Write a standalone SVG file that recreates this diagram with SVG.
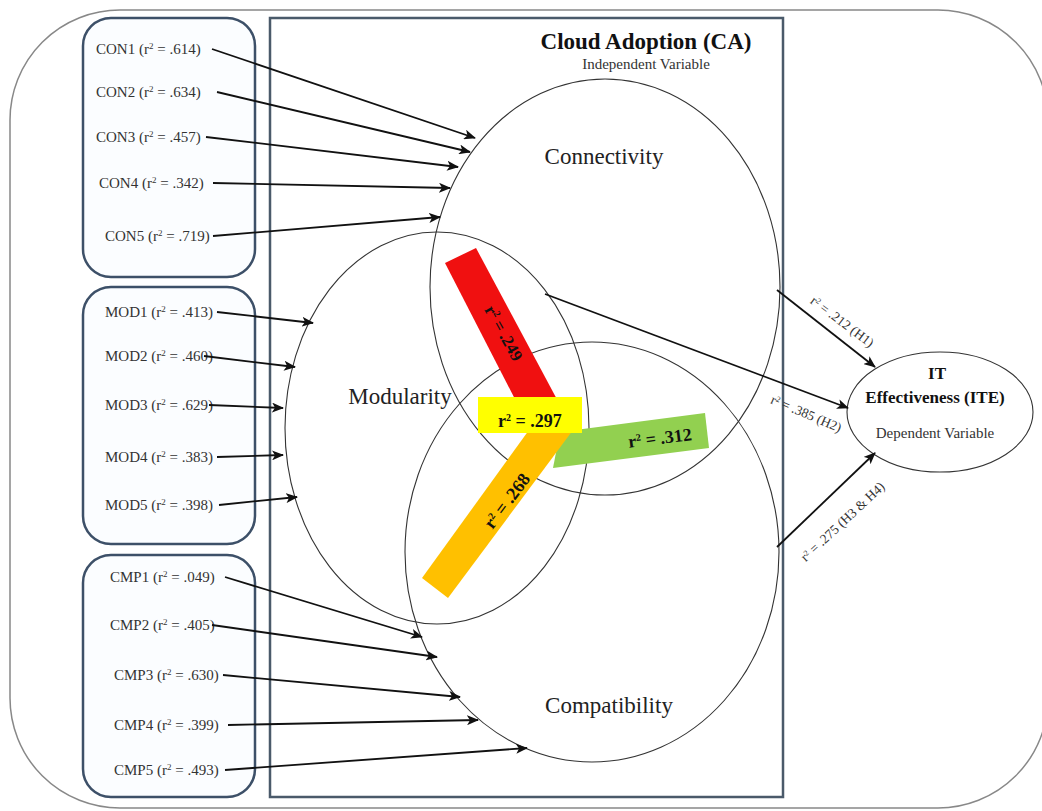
<svg xmlns="http://www.w3.org/2000/svg" width="1042" height="811" viewBox="0 0 1042 811">
<defs>
<marker id="arr" markerUnits="userSpaceOnUse" markerWidth="12" markerHeight="10" refX="11" refY="5" orient="auto">
<path d="M0,0 L12,5 L0,10 L3,5 z" fill="#111"/>
</marker>
<style>
.box{fill:#fbfdff;stroke:#3d5068;stroke-width:2.5}
.ell{fill:none;stroke:#333;stroke-width:1.1}
.lbl{font-family:"Liberation Serif",serif;font-size:15px;fill:#333}
.big{font-family:"Liberation Serif",serif;font-size:23px;fill:#222}
.bold{font-family:"Liberation Serif",serif;font-weight:bold;fill:#111}
.hl{font-family:"Liberation Serif",serif;font-size:13.5px;fill:#333;text-anchor:middle}
.conn line{stroke:#111;stroke-width:1.8;marker-end:url(#arr)}
</style>
</defs>
<rect x="0" y="0" width="1042" height="811" fill="#fff"/>
<rect x="10" y="10" width="1038" height="798" rx="110" ry="110" fill="#fff" stroke="#888" stroke-width="1.5"/>

<g id="con-box">
<rect class="box" x="83" y="18" width="172" height="259" rx="28"/>
<text class="lbl" x="96" y="54">CON1 (r<tspan dy="-5" font-size="9">2</tspan><tspan dy="5"> = .614)</tspan></text>
<text class="lbl" x="96" y="97">CON2 (r<tspan dy="-5" font-size="9">2</tspan><tspan dy="5"> = .634)</tspan></text>
<text class="lbl" x="96" y="142">CON3 (r<tspan dy="-5" font-size="9">2</tspan><tspan dy="5"> = .457)</tspan></text>
<text class="lbl" x="99" y="188">CON4 (r<tspan dy="-5" font-size="9">2</tspan><tspan dy="5"> = .342)</tspan></text>
<text class="lbl" x="105" y="241">CON5 (r<tspan dy="-5" font-size="9">2</tspan><tspan dy="5"> = .719)</tspan></text>
</g>
<g id="mod-box">
<rect class="box" x="83" y="287" width="172" height="257" rx="28"/>
<text class="lbl" x="105" y="317">MOD1 (r<tspan dy="-5" font-size="9">2</tspan><tspan dy="5"> = .413)</tspan></text>
<text class="lbl" x="105" y="361">MOD2 (r<tspan dy="-5" font-size="9">2</tspan><tspan dy="5"> = .460)</tspan></text>
<text class="lbl" x="105" y="410">MOD3 (r<tspan dy="-5" font-size="9">2</tspan><tspan dy="5"> = .629)</tspan></text>
<text class="lbl" x="105" y="462">MOD4 (r<tspan dy="-5" font-size="9">2</tspan><tspan dy="5"> = .383)</tspan></text>
<text class="lbl" x="105" y="510">MOD5 (r<tspan dy="-5" font-size="9">2</tspan><tspan dy="5"> = .398)</tspan></text>
</g>
<g id="cmp-box">
<rect class="box" x="83" y="555" width="172" height="242" rx="28"/>
<text class="lbl" x="110" y="582">CMP1 (r<tspan dy="-5" font-size="9">2</tspan><tspan dy="5"> = .049)</tspan></text>
<text class="lbl" x="110" y="630">CMP2 (r<tspan dy="-5" font-size="9">2</tspan><tspan dy="5"> = .405)</tspan></text>
<text class="lbl" x="114" y="680">CMP3 (r<tspan dy="-5" font-size="9">2</tspan><tspan dy="5"> = .630)</tspan></text>
<text class="lbl" x="114" y="730">CMP4 (r<tspan dy="-5" font-size="9">2</tspan><tspan dy="5"> = .399)</tspan></text>
<text class="lbl" x="114" y="775">CMP5 (r<tspan dy="-5" font-size="9">2</tspan><tspan dy="5"> = .493)</tspan></text>
</g>

<g id="cloud-adoption">
<rect x="270" y="18" width="513" height="779" fill="#fff" stroke="#4a5a6a" stroke-width="2.5"/>
<text class="bold" x="646" y="49" font-size="23" text-anchor="middle">Cloud Adoption (CA)</text>
<text class="lbl" x="646" y="69" font-size="15.5" text-anchor="middle">Independent Variable</text>
</g>

<g id="connectivity">
<ellipse class="ell" cx="605" cy="287" rx="175" ry="208"/>
<text class="big" x="604" y="164" text-anchor="middle">Connectivity</text>
</g>
<g id="modularity">
<ellipse class="ell" cx="437" cy="428" rx="152" ry="196"/>
<text class="big" x="400" y="404" font-size="22" text-anchor="middle">Modularity</text>
</g>
<g id="compatibility">
<ellipse class="ell" cx="592" cy="552" rx="187" ry="210"/>
<text class="big" x="609" y="713" text-anchor="middle">Compatibility</text>
</g>

<g id="shared-variance">
<polygon points="445,263 476,248 560,405 518,405" fill="#f01010"/>
<polygon points="560,432 705,413 709,448 553,468" fill="#92d050"/>
<polygon points="529,430 573,430 448,598 422,578" fill="#ffc000"/>
<rect x="478" y="397" width="104" height="36" fill="#ffff00"/>
<text class="bold" font-size="17" text-anchor="middle" transform="translate(504,333) rotate(61)" y="6">r<tspan dy="-6" font-size="10">2</tspan><tspan dy="6"> = .249</tspan></text>
<text class="bold" font-size="18" text-anchor="middle" x="530" y="427">r<tspan dy="-6" font-size="10">2</tspan><tspan dy="6"> = .297</tspan></text>
<text class="bold" font-size="18" text-anchor="middle" transform="translate(660,438) rotate(-7)" y="6">r<tspan dy="-6" font-size="10">2</tspan><tspan dy="6"> = .312</tspan></text>
<text class="bold" font-size="18" text-anchor="middle" transform="translate(507,501) rotate(-53)" y="6">r<tspan dy="-6" font-size="10">2</tspan><tspan dy="6"> = .268</tspan></text>
</g>

<g id="ite">
<ellipse class="ell" cx="940" cy="412" rx="93" ry="60" fill="#fff"/>
<text class="bold" font-size="17" x="937" y="379" text-anchor="middle">IT</text>
<text class="bold" font-size="17" x="935" y="403" text-anchor="middle">Effectiveness (ITE)</text>
<text class="lbl" font-size="13.5" x="935" y="438" text-anchor="middle">Dependent Variable</text>
</g>

<g id="connectors" class="conn">
<line x1="212" y1="49" x2="475" y2="138"/>
<line x1="217" y1="92" x2="470" y2="152"/>
<line x1="206" y1="137" x2="458" y2="167"/>
<line x1="213" y1="183" x2="450" y2="188"/>
<line x1="213" y1="236" x2="440" y2="217"/>
<line x1="217" y1="312" x2="313" y2="323"/>
<line x1="204" y1="356" x2="295" y2="367"/>
<line x1="209" y1="405" x2="283" y2="408"/>
<line x1="217" y1="457" x2="283" y2="455"/>
<line x1="219" y1="505" x2="297" y2="497"/>
<line x1="225" y1="577" x2="422" y2="637"/>
<line x1="212" y1="625" x2="437" y2="657"/>
<line x1="223" y1="675" x2="460" y2="697"/>
<line x1="228" y1="725" x2="478" y2="720"/>
<line x1="225" y1="770" x2="527" y2="748"/>
<line x1="777" y1="290" x2="875" y2="367"/>
<line x1="545" y1="294" x2="848" y2="408"/>
<line x1="777" y1="547" x2="875" y2="453"/>
</g>
<g id="path-labels">
<text class="hl" transform="translate(842,322) rotate(37)" y="4">r<tspan dy="-4" font-size="8">2</tspan><tspan dy="4"> = .212 (H1)</tspan></text>
<text class="hl" transform="translate(806,414) rotate(23)" y="4">r<tspan dy="-4" font-size="8">2</tspan><tspan dy="4"> = .385 (H2)</tspan></text>
<text class="hl" transform="translate(843,522) rotate(-43)" y="4">r<tspan dy="-4" font-size="8">2</tspan><tspan dy="4"> = .275 (H3 &amp; H4)</tspan></text>
</g>
</svg>
